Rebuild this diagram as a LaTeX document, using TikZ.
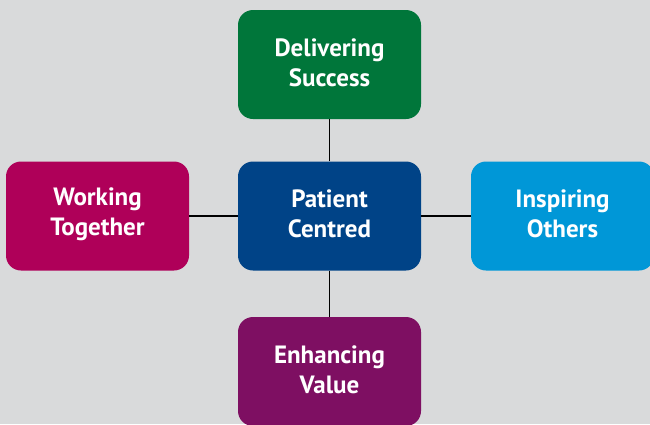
\documentclass[tikz,border=0pt]{standalone}
\usepackage{fontspec}
\setmainfont{PT Sans}
\definecolor{bg}{HTML}{D9DADB}
\definecolor{cgreen}{HTML}{00763A}
\definecolor{cblue}{HTML}{004387}
\definecolor{cmag}{HTML}{AF0059}
\definecolor{clight}{HTML}{0097D7}
\definecolor{cpurp}{HTML}{7E0F62}
\begin{document}
\begin{tikzpicture}[x=1pt,y=-1pt,
  valbox/.style={rounded corners=15pt, minimum width=183pt, minimum height=109pt,
    inner sep=0pt, text=white, align=center,
    font=\fontsize{25}{30}\selectfont\bfseries},
  valtext/.style={text=white, align=center, inner sep=0pt,
    font=\fontsize{25}{30}\selectfont\bfseries},
  link/.style={draw=black, line width=1.5pt}]
\fill[bg] (0,0) rectangle (650,424);
\useasboundingbox (0,0) rectangle (650,424);
\node[valbox, fill=cblue] (c) at (329.5,216) {};
\node[valbox, fill=cgreen] (t) at (329.5,64.5) {};
\node[valbox, fill=cmag] (l) at (97.5,216) {};
\node[valbox, fill=clight] (r) at (562.5,216) {};
\node[valbox, fill=cpurp] (b) at (329.5,371.5) {};
\node[valtext] (ct) at ([yshift=2pt]c.center) {Patient\\Centred};
\node[valtext] (tt) at ([yshift=2pt]t.center) {Delivering\\Success};
\node[valtext] (lt) at ([yshift=2pt]l.center) {Working\\Together};
\node[valtext] (rt) at ([yshift=2pt]r.center) {Inspiring\\Others};
\node[valtext] (bt) at ([yshift=2pt]b.center) {Enhancing\\Value};
\draw[link] (c) -- (t);
\draw[link] (c) -- (l);
\draw[link] (c) -- (r);
\draw[link] (c) -- (b);
\end{tikzpicture}
\end{document}
